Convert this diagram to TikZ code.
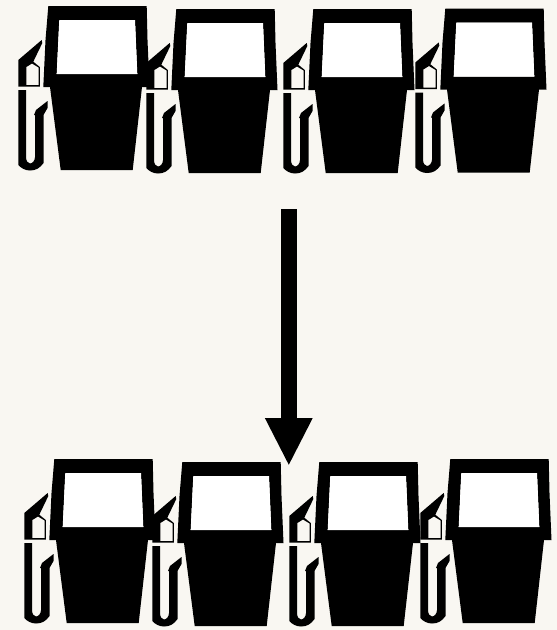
\documentclass[tikz,border=0pt]{standalone}
\usetikzlibrary{arrows.meta}
\definecolor{paper}{HTML}{F9F7F2}
\tikzset{
  pump/.pic={
    % body with window as a hole
    \fill[black,even odd rule]
      (48.3,6) -- (146.7,6) -- (147.5,40) -- (149.5,87) -- (142,87) -- (132.7,170) -- (60.7,170) -- (50,87) -- (43.3,87) -- (45.5,40) -- cycle
      (59.3,20) -- (135,20) -- (137.3,74) -- (56.7,74) -- cycle;
    \fill[white] (59.3,20) -- (135,20) -- (137.3,74) -- (56.7,74) -- cycle;
    % nozzle
    \fill[black,even odd rule]
      (41.7,40) -- (42.3,43) -- (33.3,61.7) -- (39.8,67) -- (39.8,86.5) -- (18.3,86.5) -- (18.3,60) -- cycle
      (26.3,67) -- (32,63.5) -- (38.6,67.5) -- (38.6,85) -- (26.3,85) -- cycle;
    % hose
    \fill[black]
      (18.3,90) -- (26,90) -- (26,157) .. controls (26,161) and (28,163.5) .. (30,163.5)
      .. controls (32,163.5) and (35,161) .. (35,157) -- (35,115) -- (34,115) -- (36,110) -- (47.5,101)
      -- (47.5,108) -- (43.5,115) -- (43.5,163) .. controls (40,168) and (36,170.5) .. (30,170.5)
      .. controls (25,170.5) and (21,168) .. (18.3,165) -- cycle;
  }
}
\begin{document}
\begin{tikzpicture}[x=1pt,y=-1pt]
  \useasboundingbox (0,0) rectangle (557,630);
  \fill[paper] (0,0) rectangle (557,630);
  \pic at (0,0) {pump};
  \pic at (128,3) {pump};
  \pic at (265,3) {pump};
  \pic at (397,2.5) {pump};
  \pic at (6,453) {pump};
  \pic at (134,456) {pump};
  \pic at (271,456) {pump};
  \pic at (402,453) {pump};
  \coordinate (from) at (288.8,209);
  \coordinate (to) at (288.8,466);
  \draw[black,line width=15.7pt,-{Triangle[length=48pt,width=44pt,sep=0pt]}] (from) -- (to);
\end{tikzpicture}
\end{document}
